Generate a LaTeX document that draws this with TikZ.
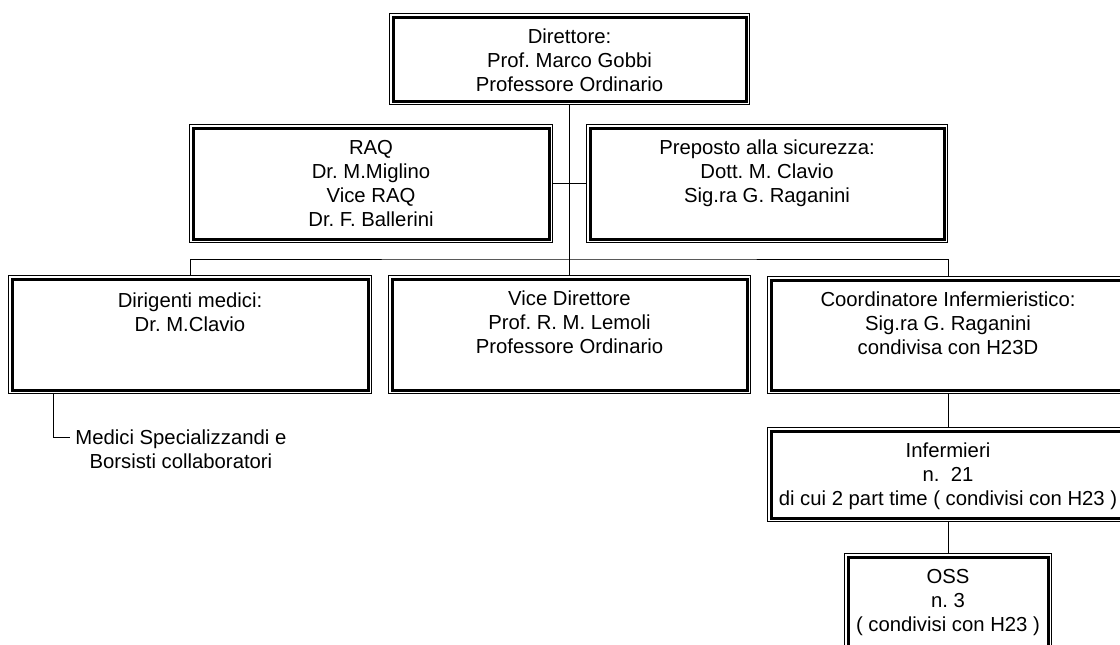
\documentclass[tikz,border=0pt]{standalone}
\usepackage{fontspec}
\setmainfont{Liberation Sans}
\newcommand{\orgfont}{\fontsize{10.15}{12}\selectfont}
\frenchspacing

\tikzset{
 orgbox/.style 2 args={draw, line width=0.5pt, anchor=north west, inner sep=0pt,
   minimum width=#1*0.5pt, minimum height=#2*0.5pt,
   path picture={\draw[line width=1.5pt]
     ([shift={(1.75pt,-1.75pt)}]path picture bounding box.north west) rectangle
     ([shift={(-1.75pt,1.75pt)}]path picture bounding box.south east);}},
 orgtext/.style={align=center, anchor=north, inner sep=0pt, font=\orgfont},
 orgline/.style={line width=0.5pt}
}

\begin{document}
\begin{tikzpicture}[x=0.5pt, y=-0.5pt]
 \useasboundingbox (0,0) rectangle (1120,644);
 \clip (0,0) rectangle (1120,644);

 % boxes
 \node[orgbox={360}{91}] (dir) at (389,13) {};
 \node[orgbox={363}{118}] (raq) at (189,124) {};
 \node[orgbox={361}{118}] (prep) at (586,124) {};
 \node[orgbox={363}{118}] (dirig) at (8,275) {};
 \node[orgbox={362}{118}] (vice) at (388,275) {};
 \node[orgbox={361}{117}] (coord) at (767,276) {};
 \node[orgbox={361}{94}] (inf) at (767,427) {};
 \node[orgbox={207}{104}] (oss) at (844,553) {};

 % texts
 \node[orgtext] (dirtxt) at ([yshift=-7.75pt]dir.north) {Direttore:\\Prof. Marco Gobbi\\Professore Ordinario};
 \node[orgtext] (raqtxt) at ([yshift=-7.75pt]raq.north) {RAQ\\Dr. M.Miglino\\Vice RAQ\\Dr. F. Ballerini};
 \node[orgtext] (preptxt) at ([yshift=-7.75pt]prep.north) {Preposto alla sicurezza:\\Dott. M. Clavio\\Sig.ra G. Raganini};
 \node[orgtext] (dirigtxt) at ([yshift=-8.5pt]dirig.north) {Dirigenti medici:\\Dr. M.Clavio};
 \node[orgtext] (vicetxt) at ([yshift=-7.75pt]vice.north) {Vice Direttore\\Prof. R. M. Lemoli\\Professore Ordinario};
 \node[orgtext] (coordtxt) at ([yshift=-7.75pt]coord.north) {Coordinatore Infermieristico:\\Sig.ra G. Raganini\\condivisa con H23D};
 \node[orgtext] (inftxt) at ([yshift=-7.75pt]inf.north) {Infermieri\\n.\ \ 21\\di cui 2 part time ( condivisi con H23 )};
 \node[orgtext] (osstxt) at ([yshift=-7.75pt]oss.north) {OSS\\n. 3\\( condivisi con H23 )};
 \node[orgtext, anchor=north west] (medici) at (75,429.5) {Medici Specializzandi e\\Borsisti collaboratori};

 % connectors
 \coordinate (bus) at (569,259);
 \draw[orgline] (dir.south) -- (vice.north);
 \draw[orgline] (raq.east) -- (prep.west);
 \draw[orgline] (dirig.north) |- (bus) -| (coord.north);
 \draw[orgline] (coord.south) -- (inf.north);
 \draw[orgline] (inf.south) -- (oss.north);
 \draw[orgline] (dirig.south west) ++(45,0) |- ([xshift=-2.5pt,yshift=-3.75pt]medici.north west);
\end{tikzpicture}
\end{document}
